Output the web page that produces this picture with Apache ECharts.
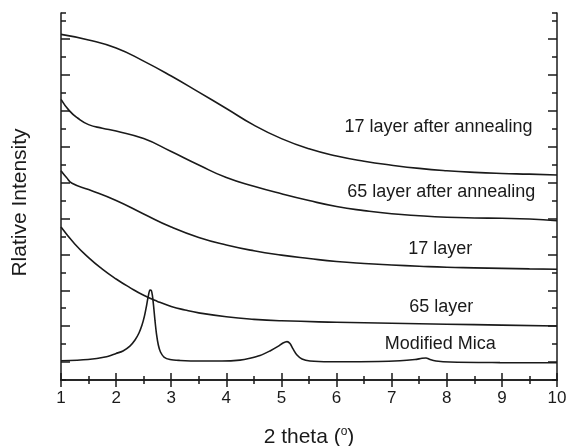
<!DOCTYPE html>
<html>
<head>
<meta charset="utf-8">
<script src="https://cdn.jsdelivr.net/npm/echarts@6/dist/echarts.min.js"></script>
<style>
  html, body { margin: 0; padding: 0; background: #ffffff; }
  #chart { width: 569px; height: 446px; }
</style>
</head>
<body>
<div id="chart"></div>
<script>
// XRD scans: 2 theta (degrees) vs relative intensity (curves offset vertically, arbitrary units)
const annealed17X = [1.0, 1.5, 2.0, 2.5, 3.0, 3.5, 4.0, 4.5, 5.0, 5.5, 6.0, 6.5, 7.0, 7.5, 8.0, 8.5, 9.0, 9.5, 10.0];
const annealed17Y = [19.26, 18.95, 18.50, 17.77, 16.94, 16.04, 15.13, 14.20, 13.45, 12.88, 12.48, 12.19, 11.97, 11.79, 11.66, 11.57, 11.51, 11.47, 11.42];

const annealed65X = [1.0, 1.15, 1.3, 1.5, 1.75, 2.0, 2.5, 3.0, 3.5, 4.0, 4.5, 5.0, 5.5, 6.0, 6.5, 7.0, 7.5, 8.0, 8.5, 9.0, 9.5, 10.0];
const annealed65Y = [15.64, 15.01, 14.60, 14.23, 14.03, 13.87, 13.45, 12.73, 11.98, 11.28, 10.80, 10.38, 10.00, 9.67, 9.44, 9.26, 9.15, 9.07, 9.03, 9.01, 8.97, 8.87];

const layer17X = [1.0, 1.1, 1.2, 1.5, 2.0, 2.5, 3.0, 3.5, 4.0, 4.5, 5.0, 5.5, 6.0, 6.5, 7.0, 7.5, 8.0, 8.5, 9.0, 9.5, 10.0];
const layer17Y = [11.66, 11.28, 10.96, 10.61, 10.00, 9.25, 8.52, 7.94, 7.52, 7.20, 6.96, 6.77, 6.60, 6.49, 6.41, 6.34, 6.28, 6.25, 6.22, 6.19, 6.17];

const layer65X = [1.0, 1.25, 1.5, 1.75, 2.0, 2.25, 2.5, 2.75, 3.0, 3.25, 3.5, 4.0, 4.5, 5.0, 6.0, 7.0, 8.0, 9.0, 10.0];
const layer65Y = [8.52, 7.58, 6.82, 6.18, 5.63, 5.15, 4.72, 4.38, 4.10, 3.90, 3.74, 3.52, 3.38, 3.30, 3.22, 3.16, 3.11, 3.06, 3.01];

const micaX = [1.0, 1.49, 1.8, 2.0, 2.125, 2.25, 2.343, 2.415, 2.47, 2.515, 2.551, 2.584, 2.615, 2.639, 2.66, 2.682, 2.706, 2.733, 2.766, 2.805, 2.869, 2.978, 3.159, 3.522, 3.921, 4.248, 4.429, 4.611, 4.792, 4.937, 5.028, 5.101, 5.155, 5.21, 5.282, 5.373, 5.518, 5.881, 6.425, 7.151, 7.424, 7.551, 7.623, 7.696, 7.805, 8.059, 8.966, 10.0];
const micaY = [1.07, 1.14, 1.28, 1.48, 1.62, 1.89, 2.23, 2.62, 3.06, 3.57, 4.12, 4.68, 5.01, 4.99, 4.68, 4.07, 3.29, 2.56, 1.95, 1.56, 1.28, 1.14, 1.09, 1.06, 1.06, 1.11, 1.21, 1.36, 1.62, 1.87, 2.06, 2.14, 2.03, 1.73, 1.39, 1.17, 1.06, 1.02, 1.02, 1.07, 1.14, 1.21, 1.23, 1.14, 1.06, 1.00, 0.97, 0.96];

// curve captions and their anchor points (data units)
const seriesNames = ['17 layer after annealing', '65 layer after annealing', '17 layer', '65 layer', 'Modified Mica'];
const captionX = [7.85, 7.9, 7.88, 7.9, 7.88];
const captionY = [14.09, 10.49, 7.28, 4.08, 2.0];

// axis ranges and tick positions
const xMin = 1, xMax = 10, xStep = 1;
const yMin = 0, yMax = 20.45, yStep = 2;
const yLongTicks = [1, 3, 5, 7, 9, 11, 13, 15, 17, 19];

const xs = [annealed17X, annealed65X, layer17X, layer65X, micaX];
const ys = [annealed17Y, annealed65Y, layer17Y, layer65Y, micaY];

const FONT = '"Liberation Sans", Arial, Helvetica, sans-serif';
const INK = '#1a1a1a';
const GRID = { left: 61, right: 12, top: 13, bottom: 66, containLabel: false, outerBoundsMode: 'none' };

function pairs(x, y) { return x.map((v, i) => [v, y[i]]); }

// tick lengths are negative so the marks point into the plotting area
const tickLine = { color: INK, width: 1.5 };
const frameLine = { show: true, lineStyle: { color: INK, width: 1.5 } };

function xAxisOf(position, withLabels) {
  const ax = {
    gridIndex: 0, type: 'value', position: position,
    min: xMin, max: xMax, interval: xStep,
    axisLine: frameLine,
    axisTick: { show: true, inside: false, length: -7, lineStyle: tickLine },
    minorTick: { show: true, splitNumber: 2, length: -4, lineStyle: tickLine },
    splitLine: { show: false }, minorSplitLine: { show: false },
    axisLabel: { show: withLabels, margin: 10, fontFamily: FONT, fontSize: 17, color: INK }
  };
  if (withLabels) {
    ax.name = '2 theta ({sup|o})';
    ax.nameLocation = 'middle';
    ax.nameGap = 46;
    ax.nameTextStyle = {
      fontFamily: FONT, fontSize: 21, color: INK,
      rich: { sup: { fontFamily: FONT, fontSize: 12, color: INK, verticalAlign: 'top', padding: [0, 0, 10, 0] } }
    };
  }
  return ax;
}

// short ticks on the even values (main grid)
function yAxisShort(position, withName) {
  const ax = {
    gridIndex: 0, type: 'value', position: position,
    min: yMin, max: yMax, interval: yStep,
    axisLine: frameLine,
    axisTick: { show: true, inside: false, length: -5, lineStyle: tickLine },
    splitLine: { show: false },
    axisLabel: { show: false }
  };
  if (withName) {
    ax.name = 'Rlative Intensity';
    ax.nameLocation = 'middle';
    ax.nameGap = 30;
    ax.nameTextStyle = { fontFamily: FONT, fontSize: 21, color: INK, padding: [0, 12, 0, 0] };
  }
  return ax;
}

// long ticks on the odd values (overlay grid)
function yAxisLong(position) {
  return {
    gridIndex: 1, type: 'value', position: position,
    min: yMin, max: yMax,
    axisLine: { show: false },
    axisTick: { show: true, inside: false, length: -9, lineStyle: tickLine, customValues: yLongTicks },
    splitLine: { show: false },
    axisLabel: { show: false }
  };
}

const chart = echarts.init(document.getElementById('chart'), null, { renderer: 'canvas' });
chart.setOption({
  animation: false,
  backgroundColor: '#ffffff',
  textStyle: { fontFamily: FONT },
  grid: [Object.assign({}, GRID), Object.assign({}, GRID)],
  xAxis: [
    xAxisOf('bottom', true),
    xAxisOf('top', false),
    { gridIndex: 1, type: 'value', min: xMin, max: xMax, show: false }
  ],
  yAxis: [
    yAxisShort('left', true),
    yAxisShort('right', false),
    yAxisLong('left'),
    yAxisLong('right')
  ],
  series: seriesNames.map((name, i) => ({
    name: name,
    type: 'line',
    xAxisIndex: 0,
    yAxisIndex: 0,
    data: pairs(xs[i], ys[i]),
    showSymbol: false,
    symbol: 'none',
    smooth: i === 4 ? 0.3 : 0.5,
    lineStyle: { color: INK, width: 1.6 },
    markPoint: {
      symbol: 'circle',
      symbolSize: 0,
      silent: true,
      label: {
        show: true, position: 'inside', formatter: name,
        fontFamily: FONT, fontSize: 18, color: INK
      },
      data: [{ coord: [captionX[i], captionY[i]] }]
    }
  }))
});
</script>
</body>
</html>
